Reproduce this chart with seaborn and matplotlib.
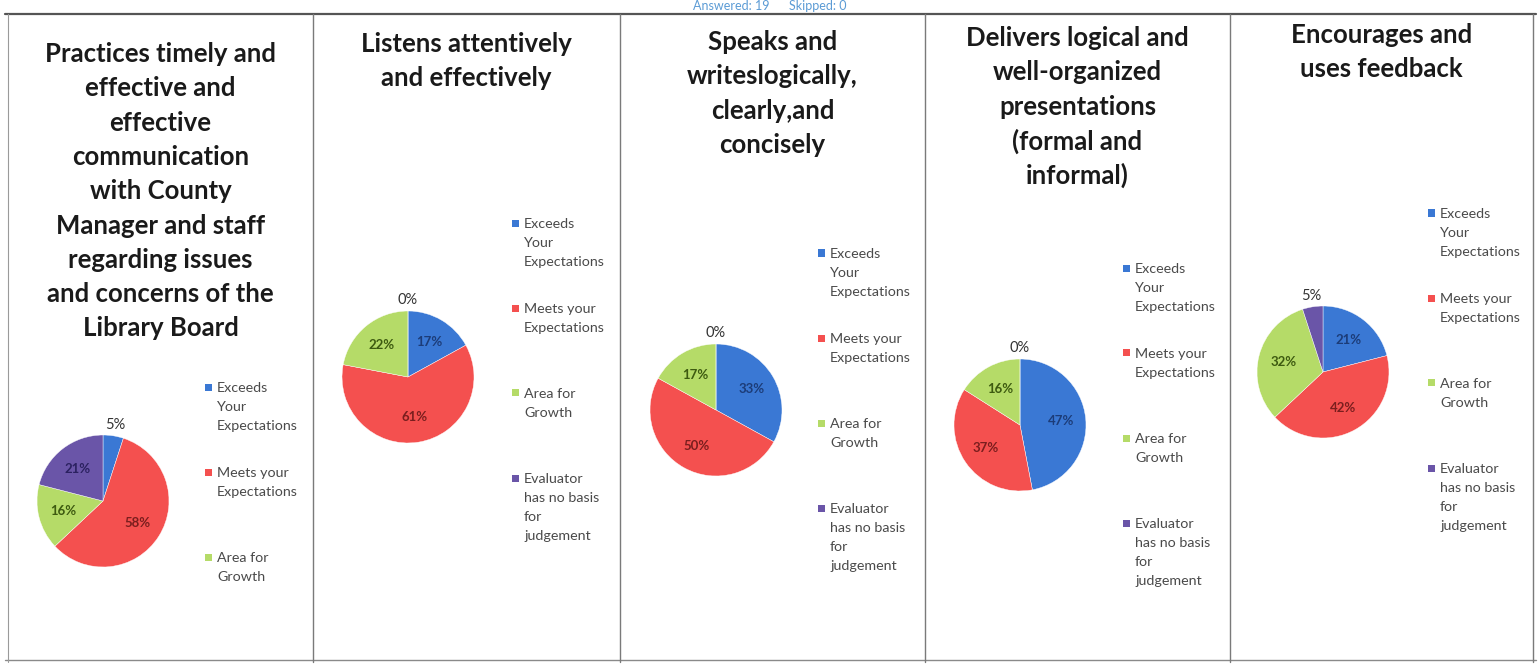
import matplotlib
matplotlib.use("Agg")
import matplotlib.pyplot as plt
from matplotlib.lines import Line2D
from matplotlib.patches import Rectangle
import numpy as np
import seaborn as sns

# ---------------- data ----------------
categories = ["Exceeds\nYour\nExpectations",
              "Meets your\nExpectations",
              "Area for\nGrowth",
              "Evaluator\nhas no basis\nfor\njudgement"]

titles = [
    "Practices timely and\neffective and\neffective\ncommunication\nwith County\nManager and staff\nregarding issues\nand concerns of the\nLibrary Board",
    "Listens attentively\nand effectively",
    "Speaks and\nwriteslogically,\nclearly,and\nconcisely",
    "Delivers logical and\nwell-organized\npresentations\n(formal and\ninformal)",
    "Encourages and\nuses feedback",
]

practices = [5, 58, 16, 21]
listens = [17, 61, 22, 0]
speaks = [33, 50, 17, 0]
delivers = [47, 37, 16, 0]
encourages = [21, 42, 32, 5]
series = [practices, listens, speaks, delivers, encourages]
legend_counts = [3, 4, 4, 4, 4]

header = "Answered: 19      Skipped: 0"

# ---------------- style ----------------
sns.set_theme(style="white")
plt.rcParams['font.family'] = ['Lato', 'DejaVu Sans']
palette = sns.color_palette(["#3a78d4", "#f4504f", "#b5db68", "#6a55a8"])
inner_text = ["#1c3c78", "#7a1e1e", "#3d5a10", "#2b2160"]

W, H = 1540, 665
fig = plt.figure(figsize=(W / 100, H / 100), dpi=100)
fig.patch.set_facecolor("white")


def fx(px):
    return px / W


def fy(py):
    return 1 - py / H


# layout (pixels)
panel_edges = [8, 313, 620, 925, 1230, 1533]
pie_centers = [(103, 501), (408, 377), (716, 410), (1020, 425), (1323, 372)]
R = 66
title_y0 = [52, 42, 40, 36, 33]
title_step = 34.3
legend_marker_x = [205, 512, 818, 1123, 1428]
legend_y0 = [387, 223, 253, 268, 213]
legend_step = 85
legend_line = 19

# borders
fig.add_artist(Line2D([fx(5), fx(1536)], [fy(14), fy(14)], color="#555555", lw=1.6,
                      transform=fig.transFigure))
fig.add_artist(Line2D([fx(5), fx(1536)], [fy(660), fy(660)], color="#8a8a8a", lw=1.0,
                      transform=fig.transFigure))
for i, x in enumerate(panel_edges):
    fig.add_artist(Line2D([fx(x), fx(x)], [fy(14), fy(662)],
                          color="#9a9a9a" if i == 0 else "#7a7a7a",
                          lw=0.8 if i == 0 else 1.0, transform=fig.transFigure))

# header at the very top
fig.text(0.5, fy(10), header, ha="center", va="baseline", fontsize=9,
         color="#5b9bd5")

for p in range(5):
    vals = series[p]
    cx, cy = pie_centers[p]
    ax = fig.add_axes([fx(cx - 1.5 * R), fy(cy + 1.5 * R), 3 * R / W, 3 * R / H])
    wedges, _ = ax.pie(vals, colors=palette, startangle=90, counterclock=False,
                       radius=1, wedgeprops=dict(linewidth=0.3, edgecolor="white"))
    ax.set_xlim(-1.5, 1.5)
    ax.set_ylim(-1.5, 1.5)
    ax.set_aspect("equal")
    ax.axis("off")
    for k, (w, v) in enumerate(zip(wedges, vals)):
        ang = np.deg2rad((w.theta1 + w.theta2) / 2)
        if v >= 10:
            r = 0.62
            ax.text(r * np.cos(ang), r * np.sin(ang), f"{v}%", ha="center",
                    va="center", fontsize=9.5, fontweight="bold",
                    color=inner_text[k])
        else:
            r = 1.17
            ax.text(r * np.cos(ang), r * np.sin(ang), f"{v}%", ha="center",
                    va="center", fontsize=10.5, color="#333333")

    # title
    tcx = (panel_edges[p] + panel_edges[p + 1]) / 2
    for j, line in enumerate(titles[p].split("\n")):
        fig.text(fx(tcx), fy(title_y0[p] + j * title_step), line, ha="center",
                 va="center_baseline", fontsize=18.5, fontweight="bold",
                 color="#1a1a1a")

    # legend
    mx = legend_marker_x[p]
    for i in range(legend_counts[p]):
        y = legend_y0[p] + i * legend_step
        fig.add_artist(Rectangle((fx(mx), fy(y + 3.5)), 7 / W, 7 / H,
                                 transform=fig.transFigure, color=palette[i],
                                 lw=0))
        for j, line in enumerate(categories[i].split("\n")):
            fig.text(fx(mx + 12), fy(y + j * legend_line), line, ha="left",
                     va="center_baseline", fontsize=10.3, color="#4a4a4a")

fig.savefig("out.png", dpi=100, facecolor="white")
